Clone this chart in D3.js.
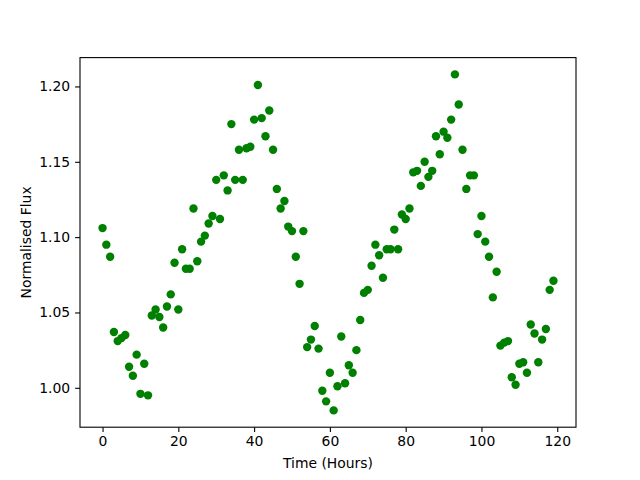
<!DOCTYPE html>
<html>
<head>
<meta charset="utf-8">
<script src="https://cdn.jsdelivr.net/npm/d3@7"></script>
<style>
  body { margin: 0; background: #fff; }
  text { font-family: "DejaVu Sans", sans-serif; }
</style>
</head>
<body>
<svg id="grafico"></svg>
<script>
// hours since start of observation
const horas = d3.range(0, 120);
// normalised flux, one per hour
const fluxo = [
  1.106, 1.095, 1.087, 1.037, 1.031, 1.033, 1.035, 1.014, 1.008, 1.022,
  0.996, 1.016, 0.995, 1.048, 1.052, 1.047, 1.040, 1.054, 1.062, 1.083,
  1.052, 1.092, 1.079, 1.079, 1.119, 1.084, 1.097, 1.101, 1.109, 1.114,
  1.138, 1.112, 1.141, 1.131, 1.175, 1.138, 1.158, 1.138, 1.159, 1.160,
  1.178, 1.201, 1.179, 1.167, 1.184, 1.158, 1.132, 1.119, 1.124, 1.107,
  1.104, 1.087, 1.069, 1.104, 1.027, 1.032, 1.041, 1.026, 0.998, 0.991,
  1.010, 0.985, 1.001, 1.034, 1.003, 1.015, 1.010, 1.025, 1.045, 1.063,
  1.065, 1.081, 1.095, 1.088, 1.073, 1.092, 1.092, 1.105, 1.092, 1.115,
  1.112, 1.119, 1.143, 1.144, 1.134, 1.150, 1.140, 1.144, 1.167, 1.155,
  1.170, 1.166, 1.178, 1.208, 1.188, 1.158, 1.132, 1.141, 1.141, 1.102,
  1.114, 1.097, 1.087, 1.060, 1.077, 1.028, 1.030, 1.031, 1.007, 1.002,
  1.016, 1.017, 1.010, 1.042, 1.036, 1.017, 1.032, 1.039, 1.065, 1.071
];
const ticksX = [0, 20, 40, 60, 80, 100, 120];
const ticksY = [1.00, 1.05, 1.10, 1.15, 1.20];

const largura = 640, altura = 480;
const margem = { esquerda: 80, direita: 64, superior: 57.6, inferior: 52.8 };
const larguraPlot = largura - margem.esquerda - margem.direita;
const alturaPlot = altura - margem.superior - margem.inferior;

const svg = d3.select('#grafico').attr('width', largura).attr('height', altura);
const plot = svg.append('g')
  .attr('transform', 'translate(' + margem.esquerda + ',' + margem.superior + ')');

// matplotlib style 5% margins around the data
const xExt = d3.extent(horas), yExt = d3.extent(fluxo);
const dx = (xExt[1] - xExt[0]) * 0.05, dy = (yExt[1] - yExt[0]) * 0.05;

const fnX = d3.scaleLinear().domain([xExt[0] - dx, xExt[1] + dx]).range([0, larguraPlot]);
const fnY = d3.scaleLinear().domain([yExt[0] - dy, yExt[1] + dy]).range([alturaPlot, 0]);

const pontos = horas.map((h, i) => ({ h: h, v: fluxo[i] }));

plot.selectAll('.ponto').data(pontos).enter().append('circle')
  .classed('ponto', true)
  .attr('cx', d => fnX(d.h))
  .attr('cy', d => fnY(d.v))
  .attr('r', 4.2)
  .attr('fill', '#008000');

const eixoX = d3.axisBottom(fnX).tickValues(ticksX).tickSize(4.9).tickPadding(4.5)
  .tickFormat(d3.format('d'));
const gx = plot.append('g').attr('transform', 'translate(0,' + alturaPlot + ')').call(eixoX);

const eixoY = d3.axisLeft(fnY).tickValues(ticksY).tickSize(4.9).tickPadding(4.9)
  .tickFormat(d3.format('.2f'));
const gy = plot.append('g').call(eixoY);

[gx, gy].forEach(g => {
  g.select('.domain').remove();
  g.selectAll('.tick line').attr('stroke', '#000').attr('stroke-width', 1.1);
  g.selectAll('.tick text').attr('fill', '#000').style('font-size', '13.9px')
    .style('font-family', '"DejaVu Sans", sans-serif');
});

plot.append('rect')
  .attr('width', larguraPlot).attr('height', alturaPlot)
  .attr('fill', 'none').attr('stroke', '#000').attr('stroke-width', 1.1);

svg.append('text')
  .attr('x', margem.esquerda + larguraPlot / 2)
  .attr('y', 468)
  .style('text-anchor', 'middle')
  .style('font-size', '13.9px')
  .text('Time (Hours)');

svg.append('text')
  .style('text-anchor', 'middle')
  .style('font-size', '13.9px')
  .attr('transform', 'translate(31, ' + (margem.superior + alturaPlot / 2) + ') rotate(-90)')
  .text('Normalised Flux');
</script>
</body>
</html>
